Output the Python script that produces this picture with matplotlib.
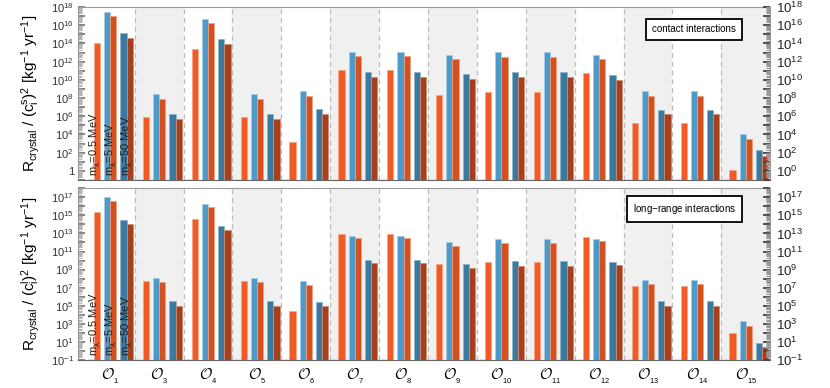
import numpy as np
import matplotlib
matplotlib.use('Agg')
import matplotlib.pyplot as plt
from matplotlib.ticker import LogLocator, NullFormatter, FixedLocator
import matplotlib.transforms as mtransforms

plt.rcParams['font.family'] = ['Liberation Sans', 'DejaVu Sans']
plt.rcParams['mathtext.fontset'] = 'custom'
plt.rcParams['mathtext.rm'] = 'Liberation Sans'
plt.rcParams['mathtext.it'] = 'Liberation Sans:italic'
plt.rcParams['mathtext.default'] = 'regular'

# operators
ops = [1, 3, 4, 5, 6, 7, 8, 9, 10, 11, 12, 13, 14, 15]
masses = ['0.5', '5', '50']

# contact interactions, log10 of rate
c_05_blue = [-0.9] * 14
c_05_or = [14.1, 5.9, 13.37, 5.9, 3.2, 11.04, 11.04, 8.34, 8.63, 8.63, 10.75, 5.28, 5.28, 0.15]
c_5_blue = [17.4, 8.45, 16.7, 8.45, 8.74, 13.04, 13.04, 12.75, 13.04, 13.04, 12.75, 8.74, 8.74, 4.08]
c_5_or = [17.0, 7.94, 16.25, 7.94, 8.23, 12.57, 12.57, 12.24, 12.53, 12.53, 12.28, 8.23, 8.23, 3.53]
c_50_blue = [15.15, 6.3, 14.46, 6.3, 6.85, 10.86, 10.86, 10.6, 10.89, 10.89, 10.53, 6.74, 6.74, 2.26]
c_50_or = [14.6, 5.68, 13.95, 5.68, 6.27, 10.35, 10.35, 10.05, 10.35, 10.35, 10.02, 6.27, 6.27, 1.6]

# long-range interactions, log10 of rate
l_05_blue = [-0.93] * 14
l_05_or = [15.39, 7.76, 14.63, 7.76, 4.44, 12.91, 12.91, 9.59, 9.88, 9.88, 12.62, 7.14, 7.14, 1.96]
l_5_blue = [17.04, 8.05, 16.3, 8.05, 7.76, 12.69, 12.69, 12.0, 12.33, 12.33, 12.36, 7.84, 7.84, 3.27]
l_5_or = [16.6, 7.65, 15.87, 7.65, 7.29, 12.44, 12.44, 11.56, 11.89, 11.89, 12.14, 7.4, 7.4, 2.8]
l_50_blue = [14.52, 5.54, 13.86, 5.54, 5.46, 10.1, 10.1, 9.62, 9.92, 9.92, 9.84, 5.5, 5.5, 0.9]
l_50_or = [14.08, 5.02, 13.35, 5.02, 4.95, 9.77, 9.77, 9.15, 9.44, 9.44, 9.48, 4.99, 4.99, 0.39]

blue_cols = ['#a9cfe4', '#4d9ac9', '#3b7aa0']
or_cols = ['#f15a24', '#d4501f', '#a6401c']
blue_edge = ['#d4e8f3', '#a6cde6', '#8db4cc']
or_edge = ['#f9a586', '#eca081', '#cf8a70']

fig = plt.figure(figsize=(8.3, 3.88), dpi=100)
ax1 = fig.add_axes([0.094, 0.536, 0.834, 0.446])
ax2 = fig.add_axes([0.094, 0.072, 0.834, 0.443])

x = np.arange(len(ops))
w = 0.127
offs = [-0.335, 0.0, 0.335]


def draw(ax, blues, oranges, ylabel, box, labels_odd):
    ax.set_yscale('log')
    ax.set_xlim(-0.66, len(ops) - 0.5)
    ax.set_ylim(0.1, 1e18)
    for i in range(len(ops)):
        if i % 2 == 1:
            ax.axvspan(i - 0.5, i + 0.5, color='#f0f0f0', zorder=0, lw=0)
        if i > 0:
            ax.axvline(i - 0.5, color='#bdbdbd', ls=(0, (4, 3)), lw=0.9, zorder=1)
    for k in range(3):
        ax.bar(x + offs[k] - w / 2, 10 ** np.array(blues[k]) - 1e-3, w, bottom=1e-3,
               color=blue_cols[k], edgecolor=blue_edge[k], lw=0.6, zorder=2)
        ax.bar(x + offs[k] + w / 2, 10 ** np.array(oranges[k]) - 1e-3, w, bottom=1e-3,
               color=or_cols[k], edgecolor=or_edge[k], lw=0.6, zorder=2)
    ax.set_ylabel(ylabel, fontsize=11)
    ax.yaxis.set_label_coords(-0.052, 0.5)
    trans = mtransforms.blended_transform_factory(ax.transData, ax.transAxes)
    for k, m in enumerate(masses):
        ax.text(offs[k] + 0.03, 0.025, r'm$_\chi$=' + m + ' MeV', rotation=90,
                transform=trans, ha='center', va='bottom', fontsize=8, color='#222222', zorder=3)
    ax.text(box[0], box[1], box[2], transform=ax.transAxes, ha='center', va='center', fontsize=7,
            bbox=dict(boxstyle='square,pad=0.6', fc='white', ec='black', lw=1.3), zorder=4)
    for s in ax.spines.values():
        s.set_color('#999999')
    ax.spines['bottom'].set_color('#666666')
    ax.set_xticks(x)
    ax.tick_params(axis='x', length=0)
    majors = np.arange(-1, 19)
    if labels_odd:
        lab = [r'10$^{%d}$' % e for e in majors if e % 2 != 0]
        pos = [10.0 ** e for e in majors if e % 2 != 0]
        lab_r = lab
    else:
        pos = [10.0 ** e for e in majors if e % 2 == 0 and e >= 0]
        lab = ['1' if e == 0 else r'10$^{%d}$' % e for e in majors if e % 2 == 0 and e >= 0]
        lab_r = [r'10$^{%d}$' % e for e in majors if e % 2 == 0 and e >= 0]
    ax.yaxis.set_major_locator(FixedLocator([10.0 ** e for e in majors]))
    ax.yaxis.set_minor_locator(LogLocator(base=10, subs=np.arange(2, 10), numticks=50))
    ax.yaxis.set_minor_formatter(NullFormatter())
    ax.set_yticks([10.0 ** e for e in majors])
    ax.set_yticklabels([lab[pos.index(10.0 ** e)] if 10.0 ** e in pos else '' for e in majors])
    ax.tick_params(axis='y', which='major', direction='in', length=5, width=1.3,
                   color='#7a7a7a', labelsize=8, labelcolor='#333333', pad=3)
    ax.tick_params(axis='y', which='minor', direction='in', length=3, width=0.8, color='#b5b5b5')
    ax.set_ylim(0.1, 1e18)

    axr = ax.twinx()
    axr.set_yscale('log')
    axr.set_ylim(0.1, 1e18)
    axr.set_yticks([10.0 ** e for e in majors])
    axr.set_yticklabels([lab_r[pos.index(10.0 ** e)] if 10.0 ** e in pos else '' for e in majors])
    axr.yaxis.set_minor_locator(LogLocator(base=10, subs=np.arange(2, 10), numticks=50))
    axr.yaxis.set_minor_formatter(NullFormatter())
    axr.tick_params(axis='y', which='major', direction='in', length=5, width=1.3,
                    color='#444444', labelsize=9.5, labelcolor='#222222', pad=4)
    axr.tick_params(axis='y', which='minor', direction='in', length=3, width=0.8, color='#999999')
    axr.set_ylim(0.1, 1e18)
    for s in axr.spines.values():
        s.set_visible(False)


draw(ax1, [c_05_blue, c_5_blue, c_50_blue], [c_05_or, c_5_or, c_50_or],
     r'R$_{crystal}$ / (c$_i^s$)$^2$ [kg$^{-1}$ yr$^{-1}$]',
     (0.89, 0.87, 'contact interactions'), False)
draw(ax2, [l_05_blue, l_5_blue, l_50_blue], [l_05_or, l_5_or, l_50_or],
     r'R$_{crystal}$ / (c$_i^l$)$^2$ [kg$^{-1}$ yr$^{-1}$]',
     (0.876, 0.88, 'long$-$range interactions'), True)

ax1.set_xticklabels([])
ax2.set_xticklabels([r'$\mathcal{O}_{_{%d}}$' % o for o in ops], fontsize=11, math_fontfamily='cm')
ax2.tick_params(axis='x', pad=5)

fig.savefig('out.png', dpi=100)
